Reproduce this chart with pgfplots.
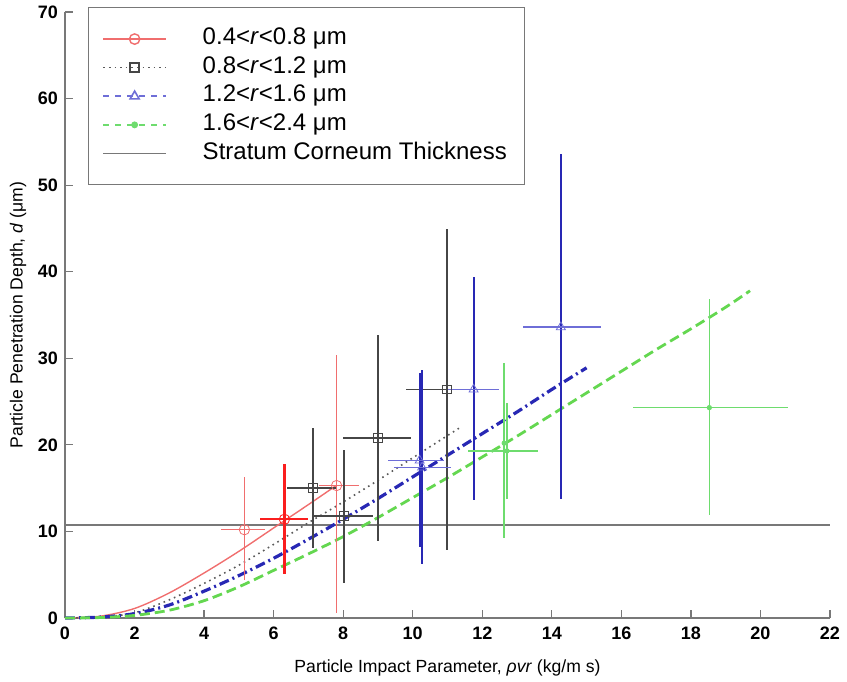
\documentclass[border=0pt]{standalone}
\usepackage{fontspec}
\setmainfont{Liberation Sans}
\usepackage{pgfplots}
\pgfplotsset{compat=1.18}

\definecolor{redL}{RGB}{240,110,110}
\definecolor{redS}{RGB}{250,30,30}
\definecolor{blackE}{RGB}{70,70,70}
\definecolor{dotG}{RGB}{90,90,90}
\definecolor{blueD}{RGB}{40,40,180}
\definecolor{blueL}{RGB}{110,110,215}
\definecolor{greenL}{RGB}{110,220,110}
\definecolor{greenD}{RGB}{100,215,80}
\definecolor{scline}{RGB}{120,120,120}

\begin{document}
\begin{tikzpicture}
\begin{axis}[
  scale only axis,
  width=382.5pt, height=303pt,
  xmin=0, xmax=22, ymin=0, ymax=70,
  axis lines=left,
  axis line style={-, scline, line width=0.8pt},
  xtick={0,2,...,22}, ytick={0,10,...,70},
  tick align=inside, major tick length=4pt,
  tick style={scline, line width=0.6pt},
  /pgf/number format/assume math mode=true,
  tick label style={font=\fontsize{9}{10}\selectfont\bfseries},
  xticklabel style={yshift=-1pt},
  xlabel={Particle Impact Parameter, \textit{ρvr} (kg/m s)},
  ylabel={Particle Penetration Depth, \textit{d} (μm)},
  label style={font=\fontsize{8.8}{10}\selectfont},
  x label style={at={(axis description cs:0.5,0)}, anchor=base, yshift=-27pt},
  y label style={at={(axis description cs:0,0.5)}, anchor=center, rotate=0, yshift=23.5pt},
  clip=false,
  legend cell align=left,
  legend image code/.code={\draw[mark repeat=2,mark phase=2,#1] plot coordinates {(0cm,0cm) (0.55cm,0cm) (1.1cm,0cm)};},
  legend style={at={(rel axis cs:0.03,1.008)}, anchor=north west,
    draw=scline, line width=0.6pt, fill=white,
    inner xsep=7pt, inner ysep=8.5pt, row sep=0pt,
    font=\fontsize{12}{14.3}\selectfont,
    nodes={text height=9pt, text depth=3.3pt, inner ysep=1pt},
    /tikz/every odd column/.append style={column sep=16pt}},
]

% stratum corneum thickness
\addplot[scline, line width=0.9pt, forget plot] coordinates {(0,10.7) (22,10.7)};

% fitted curves
\addplot[redL, line width=0.7pt, smooth, forget plot] coordinates {
(0,0) (1,0.2) (2,1.1) (3,2.9) (4,5.2) (5,7.7) (6,10.4) (7,13.1) (7.8,15.3)};
\addplot[dotG, line width=0.8pt, dotted, smooth, forget plot] coordinates {
(0,0) (1,0.1) (2,0.6) (3,2.1) (4,4.0) (5,6.1) (6,8.5) (7,11.0) (8,13.4) (9,15.9) (10,18.5) (11.4,22.1)};
\addplot[blueD, line width=1.6pt, dash pattern=on 5pt off 2pt on 1pt off 2pt, smooth, forget plot] coordinates {
(0,0) (1,0.1) (2,0.5) (3,1.5) (4,3.1) (5,4.9) (6,6.9) (7,9.1) (8,11.4) (9,13.8) (10,16.3) (11,18.8) (12,21.3) (13,23.8) (14,26.4) (15,28.9)};
\addplot[greenD, line width=1.4pt, dash pattern=on 5pt off 2.5pt, smooth, forget plot] coordinates {
(0,0) (1,0.05) (2,0.3) (3,0.9) (4,2.0) (5,3.6) (6,5.5) (7,7.4) (8,9.4) (9,11.6) (10,13.9) (11,16.2) (12,18.6) (13,21.0) (14,23.5) (15,26.0) (16,28.5) (17,31.0) (18,33.4) (19,35.9) (19.7,37.8)};

% 0.4<r<0.8
\addplot[only marks, mark=o, mark size=2.6pt, redL, forget plot,
  error bars/.cd, x dir=both, x explicit, y dir=both, y explicit, error mark=none,
  error bar style={line width=0.7pt, redL}]
  table[x=x, y=y, x error plus=xp, x error minus=xm, y error plus=yp, y error minus=ym] {
x y xm xp ym yp
5.16 10.2 0.66 0.60 5.8 6.1
7.81 15.3 0.51 0.64 14.7 15.1
};
\addplot[only marks, mark=o, mark size=2.6pt, redS, forget plot,
  error bars/.cd, x dir=both, x explicit, y dir=both, y explicit, error mark=none,
  error bar style={line width=1.1pt, redS}]
  table[x=x, y=y, x error plus=xp, x error minus=xm, y error plus=yp, y error minus=ym] {
x y xm xp ym yp
6.31 11.4 0.71 0.69 6.3 6.4
};

% 0.8<r<1.2
\addplot[only marks, mark=square, mark size=2.2pt, blackE, forget plot,
  error bars/.cd, x dir=both, x explicit, y dir=both, y explicit, error mark=none,
  error bar style={line width=0.7pt, blackE}]
  table[x=x, y=y, x error plus=xp, x error minus=xm, y error plus=yp, y error minus=ym] {
x y xm xp ym yp
7.13 15.0 0.76 0.67 6.9 6.9
8.02 11.8 0.87 0.85 7.8 7.6
9.00 20.8 1.01 0.94 11.9 11.9
10.98 26.4 1.18 1.12 18.55 18.5
};

% 1.2<r<1.6
\addplot[draw=none, mark=none, forget plot,
  error bars/.cd, y dir=both, y explicit, error mark=none,
  error bar style={draw=blueD, line width=1pt}]
  table[x=x, y=y, y error plus=yp, y error minus=ym] {
x y ym yp
10.20 18.2 10.0 10.1
10.27 17.4 11.2 11.2
11.75 26.4 12.8 13.0
14.26 33.6 19.8 20.0
};
\addplot[only marks, mark=triangle, mark size=2.6pt, blueL, mark options={fill=none}, forget plot,
  error bars/.cd, x dir=both, x explicit, error mark=none,
  error bar style={line width=0.8pt, blueL}]
  table[x=x, y=y, x error plus=xp, x error minus=xm] {
x y xm xp
10.20 18.2 0.92 0.70
10.27 17.4 0.82 0.83
11.75 26.4 0.75 0.73
14.26 33.6 1.10 1.14
};

% 1.6<r<2.4
\addplot[only marks, mark=*, mark size=1.1pt, greenL, forget plot,
  error bars/.cd, x dir=both, x explicit, y dir=both, y explicit, error mark=none,
  error bar style={line width=0.7pt, greenL}]
  table[x=x, y=y, x error plus=xp, x error minus=xm, y error plus=yp, y error minus=ym] {
x y xm xp ym yp
12.63 20.2 0 0 11.0 9.3
12.71 19.3 1.11 0.89 5.5 5.5
18.53 24.3 2.20 2.27 12.4 12.5
};

% legend
\addlegendimage{redL, line width=0.7pt, mark=o, mark size=2.6pt}
\addlegendentry{0.4<\textit{r}<0.8 μm}
\addlegendimage{dotG, line width=0.8pt, dotted, mark=square, mark size=2.2pt, mark options={solid, blackE}}
\addlegendentry{0.8<\textit{r}<1.2 μm}
\addlegendimage{blueL, line width=0.8pt, dash pattern=on 3pt off 3pt, mark=triangle, mark size=2.6pt, mark options={solid}}
\addlegendentry{1.2<\textit{r}<1.6 μm}
\addlegendimage{greenL, line width=0.8pt, dash pattern=on 3pt off 3pt, mark=*, mark size=1.3pt, mark options={solid}}
\addlegendentry{1.6<\textit{r}<2.4 μm}
\addlegendimage{scline, line width=0.8pt}
\addlegendentry{Stratum Corneum Thickness}
\end{axis}
\pgfresetboundingbox
\path[use as bounding box] (-32.5pt,-31.5pt) rectangle (391pt,309pt);
\end{tikzpicture}
\end{document}
